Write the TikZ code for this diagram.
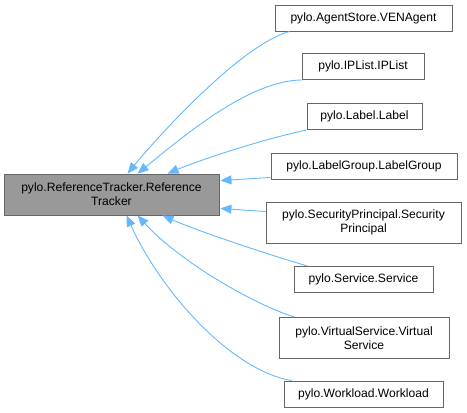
\documentclass[tikz,border=0pt]{standalone}
\usepackage{fontspec}
\setmainfont{Liberation Sans}
\usetikzlibrary{arrows.meta,calc}
\definecolor{edgeblue}{HTML}{63B8FF}
\definecolor{boxborder}{HTML}{666666}
\definecolor{mainfill}{HTML}{999999}
\begin{document}
\begin{tikzpicture}[x=1pt,y=-1pt,
  box/.style={draw=boxborder,line width=0.9pt,fill=white,inner sep=0pt,align=center,
    font=\fontsize{12.1}{14}\selectfont,minimum height=26pt},
  box2/.style={box,minimum height=41pt},
  mainbox/.style={box2,fill=mainfill},
  edge/.style={draw=edgeblue,line width=0.9pt,{Triangle[length=11pt,width=9pt,fill=edgeblue]}-}]
\useasboundingbox (0,0) rectangle (467,413);
\node[mainbox,minimum width=215pt] (main) at (111.5,194.5) {pylo.ReferenceTracker.Reference\\Tracker};
\node[box,minimum width=177pt] (ven) at (363.5,18) {pylo.AgentStore.VENAgent};
\node[box,minimum width=122pt] (ipl) at (363,66.5) {pylo.IPList.IPList};
\node[box,minimum width=115pt] (lab) at (364.5,116.5) {pylo.Label.Label};
\node[box,minimum width=186pt] (lg) at (364,166) {pylo.LabelGroup.LabelGroup};
\node[box2,minimum width=195pt] (sp) at (363.5,222.5) {pylo.SecurityPrincipal.Security\\Principal};
\node[box,minimum width=139pt] (svc) at (363.5,279.5) {pylo.Service.Service};
\node[box2,minimum width=170pt] (vs) at (364,338) {pylo.VirtualService.Virtual\\Service};
\node[box,minimum width=159pt] (wl) at (363.5,394) {pylo.Workload.Workload};

\draw[edge] ($(main.north west)+(124,0)$) .. controls (155,140) and (240,45) .. ($(ven.south west)+(15,0)$);
\draw[edge] ($(main.north west)+(134,0)$) .. controls (185,135) and (250,80) .. ($(ipl.south west)+(1,0)$);
\draw[edge] ($(main.north west)+(164,0)$) .. controls (200,160) and (260,140) .. (lab.south west);
\draw[edge] ($(main.north east)+(1,7)$) -- ($(lg.south west)+(0,-2)$);
\draw[edge] ($(main.south east)+(1,-7)$) -- ($(sp.north west)+(0,10)$);
\draw[edge] ($(main.south west)+(159,0)$) .. controls (200,232) and (270,255) .. ($(svc.north west)+(14,0)$);
\draw[edge] ($(main.south west)+(134,0)$) .. controls (180,262) and (255,305) .. ($(vs.north west)+(16,0)$);
\draw[edge] ($(main.south west)+(123,0)$) .. controls (160,290) and (230,370) .. ($(wl.north west)+(8,0)$);
\end{tikzpicture}
\end{document}
